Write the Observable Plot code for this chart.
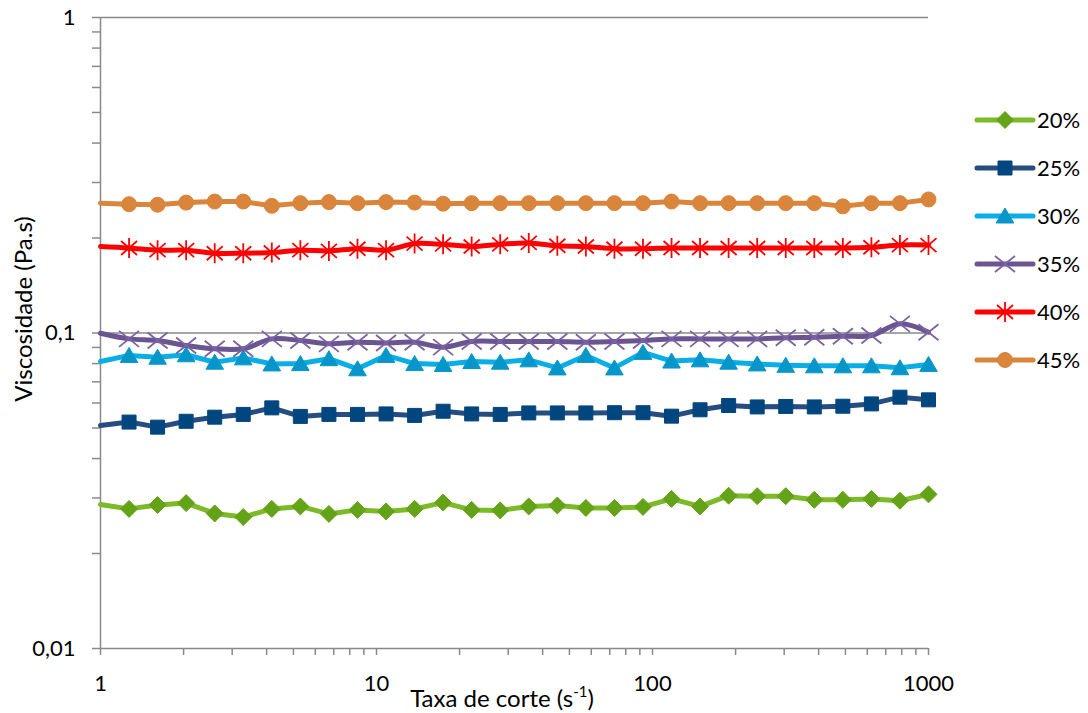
<!DOCTYPE html>
<html>
<head>
<meta charset="utf-8">
<script src="https://cdn.jsdelivr.net/npm/d3@7"></script>
<script src="https://cdn.jsdelivr.net/npm/@observablehq/plot@0.6"></script>
<style>
  body { margin: 0; background: #fff; }
  #chart { width: 1088px; height: 713px; }
</style>
</head>
<body>
<div id="chart"></div>
<script>
// Shear rate (s^-1), logarithmically spaced sweep
const shearRate = [1, 1.269, 1.610, 2.043, 2.593, 3.290, 4.175, 5.298, 6.723, 8.532,
  10.83, 13.74, 17.43, 22.12, 28.07, 35.62, 45.20, 57.36, 72.79, 92.37,
  117.2, 148.7, 188.7, 239.5, 303.9, 385.7, 489.4, 621.0, 788.0, 1000];

// Viscosity (Pa.s) for each concentration
const visc20 = [0.0286, 0.0277, 0.0285, 0.0289, 0.0268, 0.0261, 0.0277, 0.0282, 0.0267, 0.0275,
  0.0272, 0.0277, 0.0290, 0.0275, 0.0274, 0.0282, 0.0284, 0.0279, 0.0279, 0.0281,
  0.0298, 0.0282, 0.0305, 0.0304, 0.0304, 0.0296, 0.0296, 0.0298, 0.0294, 0.0308];
const visc25 = [0.0509, 0.0522, 0.0503, 0.0525, 0.0541, 0.0552, 0.0579, 0.0544, 0.0552, 0.0552,
  0.0554, 0.0548, 0.0565, 0.0554, 0.0552, 0.0558, 0.0558, 0.0558, 0.0559, 0.0559,
  0.0545, 0.0571, 0.0589, 0.0583, 0.0585, 0.0583, 0.0586, 0.0596, 0.0626, 0.0614];
const visc30 = [0.0812, 0.0849, 0.0838, 0.0853, 0.0808, 0.0834, 0.0798, 0.0800, 0.0829, 0.0770,
  0.0849, 0.0800, 0.0795, 0.0812, 0.0808, 0.0822, 0.0775, 0.0849, 0.0775, 0.0868,
  0.0815, 0.0822, 0.0808, 0.0798, 0.0790, 0.0787, 0.0787, 0.0787, 0.0776, 0.0795];
const visc35 = [0.0998, 0.0958, 0.0947, 0.0913, 0.0891, 0.0891, 0.0958, 0.0947, 0.0924, 0.0935,
  0.0930, 0.0935, 0.0902, 0.0940, 0.0940, 0.0940, 0.0940, 0.0935, 0.0940, 0.0947,
  0.0958, 0.0958, 0.0958, 0.0958, 0.0966, 0.0970, 0.0977, 0.0982, 0.1069, 0.1006];
const visc40 = [0.188, 0.186, 0.183, 0.183, 0.179, 0.179, 0.180, 0.183, 0.182, 0.185,
  0.183, 0.192, 0.191, 0.188, 0.191, 0.193, 0.189, 0.188, 0.185, 0.185,
  0.186, 0.186, 0.186, 0.186, 0.186, 0.186, 0.186, 0.187, 0.190, 0.190];
const visc45 = [0.258, 0.256, 0.255, 0.259, 0.261, 0.261, 0.253, 0.258, 0.260, 0.258,
  0.260, 0.259, 0.257, 0.258, 0.258, 0.258, 0.258, 0.258, 0.258, 0.258,
  0.261, 0.258, 0.258, 0.258, 0.258, 0.258, 0.252, 0.258, 0.258, 0.265];

const seriesNames = ["20%", "25%", "30%", "35%", "40%", "45%"];
const seriesValues = [visc20, visc25, visc30, visc35, visc40, visc45];

// Axis ticks
const xMajorTicks = [1, 10, 100, 1000];
const xMinorTicks = [2, 3, 4, 5, 6, 7, 8, 9, 20, 30, 40, 50, 60, 70, 80, 90, 200, 300, 400, 500, 600, 700, 800, 900];
const yMajorTicks = [0.01, 0.1, 1];
const yMinorTicks = [0.02, 0.03, 0.04, 0.05, 0.06, 0.07, 0.08, 0.09, 0.2, 0.3, 0.4, 0.5, 0.6, 0.7, 0.8, 0.9];
const xAxisTitle = "Taxa de corte (s";
const xAxisTitleExp = "-1";
const yAxisTitle = "Viscosidade (Pa.s)";

// Marker shapes
const diamondSym = { draw(c) { const h = 8.5; c.moveTo(0, -h); c.lineTo(h, 0); c.lineTo(0, h); c.lineTo(-h, 0); c.closePath(); } };
const squareSym = { draw(c) { const h = 7; c.rect(-h, -h, 2 * h, 2 * h); } };
const triangleSym = { draw(c) { c.moveTo(0, -8); c.lineTo(8.8, 7); c.lineTo(-8.8, 7); c.closePath(); } };
const timesSym = { draw(c) { c.moveTo(-10, -8); c.lineTo(10, 8); c.moveTo(-10, 8); c.lineTo(10, -8); } };
const starSym = { draw(c) { c.moveTo(0, -10); c.lineTo(0, 10); c.moveTo(-8, -7); c.lineTo(8, 7); c.moveTo(-8, 7); c.lineTo(8, -7); } };
const circleSym = { draw(c) { c.moveTo(7.5, 0); c.arc(0, 0, 7.5, 0, 2 * Math.PI); } };

const seriesStyle = {
  "20%": { line: "#7cba28", marker: "#64a318", symbol: diamondSym, filled: true, curve: "linear" },
  "25%": { line: "#264d80", marker: "#02467f", symbol: squareSym, filled: true, curve: "linear" },
  "30%": { line: "#0aaee6", marker: "#0796c9", symbol: triangleSym, filled: true, curve: "linear" },
  "35%": { line: "#6b5591", marker: "#7b63a3", symbol: timesSym, filled: false, curve: "catmull-rom" },
  "40%": { line: "#ff0000", marker: "#ff0000", symbol: starSym, filled: false, curve: "catmull-rom" },
  "45%": { line: "#d9853c", marker: "#d9853c", symbol: circleSym, filled: true, curve: "linear" }
};

const axisGray = "#898989";
const rows = seriesNames.flatMap((name, s) =>
  shearRate.map((x, i) => ({ name, x, y: seriesValues[s][i] })));

const seriesMarks = seriesNames.flatMap(name => {
  const st = seriesStyle[name];
  const data = rows.filter(d => d.name === name);
  return [
    Plot.line(data, { x: "x", y: "y", stroke: st.line, strokeWidth: 5, curve: st.curve, strokeLinejoin: "round", strokeLinecap: "round" }),
    Plot.dot(data.filter(d => d.x > 1), {
      x: "x", y: "y", symbol: st.symbol,
      fill: st.filled ? st.marker : "none",
      stroke: st.marker,
      strokeWidth: st.filled ? 1 : 1.8
    })
  ];
});

const fmtY = d => yMajorTicks.includes(d) ? String(d).replace(".", ",") : "";
const fmtX = d => xMajorTicks.includes(d) ? String(d) : "";

const plot = Plot.plot({
  width: 1088,
  height: 713,
  marginLeft: 100,
  marginRight: 160,
  marginTop: 17,
  marginBottom: 65,
  style: { fontFamily: "Lato, 'Noto Sans', sans-serif", fontSize: "22px", color: "#000", background: "#fff" },
  x: { type: "log", domain: [1, 1000] },
  y: { type: "log", domain: [0.01, 1] },
  marks: [
    Plot.ruleY([0.1, 1], { stroke: axisGray, strokeWidth: 1.5 }),
    Plot.axisY({ ticks: [...yMajorTicks, ...yMinorTicks], tickSize: 8, tickPadding: 17, tickFormat: fmtY, label: null, stroke: axisGray, strokeWidth: 1.5, fill: "#000" }),
    Plot.axisX({ ticks: [...xMajorTicks, ...xMinorTicks], tickSize: 7, tickPadding: 20, tickFormat: fmtX, label: null, stroke: axisGray, strokeWidth: 1.5, fill: "#000" }),
    Plot.ruleX([1], { stroke: axisGray, strokeWidth: 1.5 }),
    Plot.ruleY([0.01], { stroke: axisGray, strokeWidth: 1.5 }),
    ...seriesMarks
  ]
});

document.getElementById("chart").appendChild(plot);

// Axis titles and legend
const svg = d3.select(plot);
const xt = svg.append("text")
  .attr("x", 502).attr("y", 707)
  .attr("text-anchor", "middle")
  .attr("font-size", 24)
  .attr("fill", "#000");
xt.append("tspan").text(xAxisTitle);
xt.append("tspan").attr("font-size", 15).attr("dy", -10).text(xAxisTitleExp);
xt.append("tspan").attr("dy", 10).text(")");

svg.append("text")
  .attr("transform", "translate(22,309) rotate(-90)")
  .attr("text-anchor", "middle")
  .attr("dominant-baseline", "central")
  .attr("font-size", 24)
  .attr("fill", "#000")
  .text(yAxisTitle);

const legend = svg.append("g");
seriesNames.forEach((name, i) => {
  const st = seriesStyle[name];
  const g = legend.append("g").attr("transform", `translate(0,${120 + i * 48})`);
  g.append("line").attr("x1", 977).attr("x2", 1033).attr("y1", 0).attr("y2", 0)
    .attr("stroke", st.line).attr("stroke-width", 5).attr("stroke-linecap", "round");
  g.append("path").attr("transform", "translate(1005,0)")
    .attr("d", d3.symbol(st.symbol)())
    .attr("fill", st.filled ? st.marker : "none")
    .attr("stroke", st.marker)
    .attr("stroke-width", st.filled ? 1 : 1.8);
  g.append("text").attr("x", 1037).attr("y", 0).attr("dy", "0.36em")
    .attr("text-anchor", "start")
    .attr("font-size", 22).attr("fill", "#000").text(name);
});
</script>
</body>
</html>
